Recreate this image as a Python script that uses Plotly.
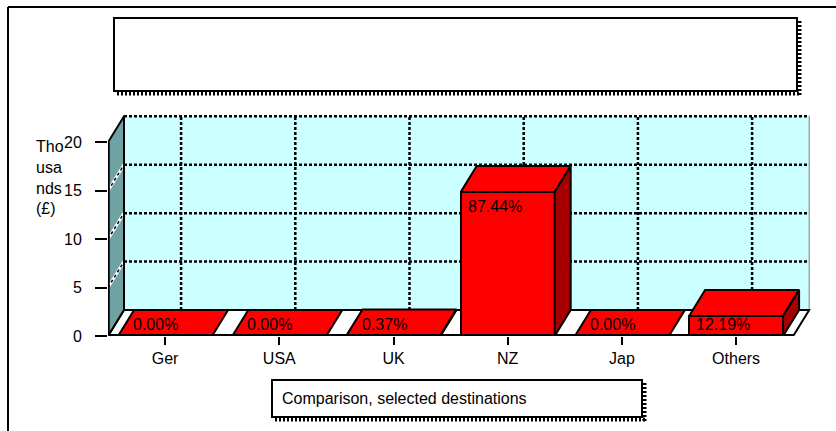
import plotly.graph_objects as go

# ---- data -------------------------------------------------------------
categories = ["Ger", "USA", "UK", "NZ", "Jap", "Others"]
values_thousands = [0.0, 0.0, 0.063, 14.865, 0.0, 2.072]
y_ticks = [0, 5, 10, 15, 20]
y_axis_title = "Tho<br>usa<br>nds<br>(£)"
caption_text = "Comparison, selected destinations"

total = sum(values_thousands)
pct_labels = [f"{v / total * 100:.2f}%" for v in values_thousands]

# ---- geometry of the plotting area (pixels) --------------------------
W, H = 836, 431
L, R, T, B = 108, 812, 115, 336
CAT_PX = 114.2          # pixels per category
UNIT_PX = 9.685         # pixels per thousand
X0 = -0.5
X_MAX = X0 + (R - L) / CAT_PX
Y_MAX = (B - T) / UNIT_PX
DX = 16 / CAT_PX        # depth offset (category units)
DY = 26 / UNIT_PX       # depth offset (value units)
BAR_W = 94 / CAT_PX
N = len(categories)
X1 = N - 0.5
TOP = y_ticks[-1]

FONT = "Liberation Sans, Arial, sans-serif"
FS = 16
RED = "#FF0000"
DARK_RED = "#A80000"
WALL = "#CCFFFF"
SIDE = "#6FA3A3"


def px(x):
    return (x - L) / (R - L)


def py(y):
    return (B - y) / (B - T)


shapes = []

# back wall
shapes.append(dict(type="rect", xref="x", yref="y", layer="below",
                   x0=X0 + DX, x1=X1 + DX, y0=DY, y1=TOP + DY,
                   fillcolor=WALL, line=dict(width=0)))
# floor
shapes.append(dict(type="path", xref="x", yref="y", layer="below",
                   path=f"M {X0},0 L {X1},0 L {X1 + DX},{DY} L {X0 + DX},{DY} Z",
                   fillcolor="white", line=dict(color="black", width=2)))
# side wall
shapes.append(dict(type="path", xref="x", yref="y", layer="below",
                   path=f"M {X0},0 L {X0},{TOP} L {X0 + DX},{TOP + DY} L {X0 + DX},{DY} Z",
                   fillcolor=SIDE, line=dict(color="black", width=2)))

dotted = dict(color="black", width=2.5, dash="3px,2px")
# back-wall gridlines
for v in y_ticks[1:]:
    shapes.append(dict(type="line", xref="x", yref="y", layer="below",
                       x0=X0 + DX, x1=X1 + DX, y0=v + DY, y1=v + DY, line=dotted))
for i in range(N):
    shapes.append(dict(type="line", xref="x", yref="y", layer="below",
                       x0=i + DX, x1=i + DX, y0=DY, y1=TOP + DY, line=dotted))
# side-wall gridlines
for v in y_ticks[1:-1]:
    shapes.append(dict(type="line", xref="x", yref="y", layer="below",
                       x0=X0, x1=X0 + DX, y0=v, y1=v + DY,
                       line=dict(color="white", width=3)))
    shapes.append(dict(type="line", xref="x", yref="y", layer="below",
                       x0=X0, x1=X0 + DX, y0=v, y1=v + DY,
                       line=dict(color="black", width=1.5, dash="3px,3px")))
# wall edges
shapes.append(dict(type="line", xref="x", yref="y", layer="below",
                   x0=X1 + DX, x1=X1 + DX, y0=DY, y1=TOP + DY,
                   line=dict(color="#7F7F7F", width=1)))
shapes.append(dict(type="line", xref="x", yref="y", layer="below",
                   x0=X0 + DX, x1=X0 + DX, y0=DY, y1=TOP + DY,
                   line=dict(color="black", width=2)))
shapes.append(dict(type="line", xref="x", yref="y", layer="below",
                   x0=X0 + DX, x1=X1 + DX, y0=DY, y1=DY,
                   line=dict(color="black", width=2)))
# front axis lines
shapes.append(dict(type="line", xref="x", yref="y", layer="above",
                   x0=X0, x1=X0, y0=0, y1=TOP, line=dict(color="black", width=3.5)))
shapes.append(dict(type="line", xref="x", yref="y", layer="above",
                   x0=X0, x1=X1, y0=0, y1=0, line=dict(color="black", width=4)))

# outer frame
shapes.append(dict(type="line", xref="paper", yref="paper",
                   x0=px(8), x1=px(8), y0=py(7), y1=py(H + 5),
                   line=dict(color="black", width=2)))
shapes.append(dict(type="line", xref="paper", yref="paper",
                   x0=px(8), x1=px(W + 5), y0=py(7), y1=py(7),
                   line=dict(color="black", width=2)))


def framed_box(x0, y0, x1, y1):
    out = [dict(type="rect", xref="paper", yref="paper",
                x0=px(x0), x1=px(x1), y0=py(y0), y1=py(y1),
                fillcolor="white", line=dict(color="black", width=2))]
    shadow = dict(color="black", width=4, dash="2px,2px")
    out.append(dict(type="line", xref="paper", yref="paper",
                    x0=px(x1 + 2.5), x1=px(x1 + 2.5), y0=py(y0 + 3), y1=py(y1 + 5),
                    line=shadow))
    out.append(dict(type="line", xref="paper", yref="paper",
                    x0=px(x0 + 3), x1=px(x1 + 4), y0=py(y1 + 2.5), y1=py(y1 + 2.5),
                    line=shadow))
    return out


shapes += framed_box(114, 18, 797, 91)
shapes += framed_box(272, 380, 642, 417)

fig = go.Figure()

# front faces
fig.add_trace(go.Bar(
    x=list(range(N)), y=values_thousands, width=BAR_W,
    marker=dict(color=RED, line=dict(color="black", width=2)),
    hoverinfo="skip", showlegend=False,
))

# top and side faces
for i, v in enumerate(values_thousands):
    xl, xr = i - BAR_W / 2, i + BAR_W / 2
    fig.add_trace(go.Scatter(
        x=[xl, xr, xr + DX, xl + DX, xl], y=[v, v, v + DY, v + DY, v],
        fill="toself", fillcolor=RED, mode="lines",
        line=dict(color="black", width=2), hoverinfo="skip", showlegend=False,
    ))
    if v > 0:
        fig.add_trace(go.Scatter(
            x=[xr, xr, xr + DX, xr + DX, xr], y=[0, v, v + DY, DY, 0],
            fill="toself", fillcolor=DARK_RED, mode="lines",
            line=dict(color="black", width=2), hoverinfo="skip", showlegend=False,
        ))

annotations = []
for i, (v, lab) in enumerate(zip(values_thousands, pct_labels)):
    annotations.append(dict(
        x=i - BAR_W / 2, y=max(v - 1.45, 1.2), xref="x", yref="y",
        text=lab, showarrow=False, xanchor="left", yanchor="middle",
        xshift=5 if v > 1 else 13,
        font=dict(family=FONT, size=FS, color="black"),
    ))

annotations.append(dict(
    x=px(34), y=py(136), xref="paper", yref="paper", text=y_axis_title,
    showarrow=False, xanchor="left", yanchor="top", align="left",
    font=dict(family=FONT, size=FS, color="black"),
))
annotations.append(dict(
    x=px(280), y=py(398), xref="paper", yref="paper", text=caption_text,
    showarrow=False, xanchor="left", yanchor="middle",
    font=dict(family=FONT, size=FS, color="black"),
))

fig.update_layout(
    width=W, height=H,
    margin=dict(l=L, r=W - R, t=T, b=H - B, pad=0),
    paper_bgcolor="white", plot_bgcolor="white",
    showlegend=False, bargap=0,
    shapes=shapes, annotations=annotations,
    font=dict(family=FONT, size=FS, color="black"),
    xaxis=dict(
        range=[X0, X_MAX], tickvals=list(range(N)), ticktext=categories,
        ticks="outside", ticklen=8, tickwidth=2, tickcolor="black",
        showgrid=False, zeroline=False, showline=False, fixedrange=True,
        tickfont=dict(family=FONT, size=FS, color="black"),
    ),
    yaxis=dict(
        range=[0, Y_MAX], tickvals=y_ticks,
        ticks="outside", ticklen=12, tickwidth=2, tickcolor="black",
        ticklabelstandoff=10,
        showgrid=False, zeroline=False, showline=False, fixedrange=True,
        tickfont=dict(family=FONT, size=FS, color="black"),
    ),
)

fig.write_html("out.html")
